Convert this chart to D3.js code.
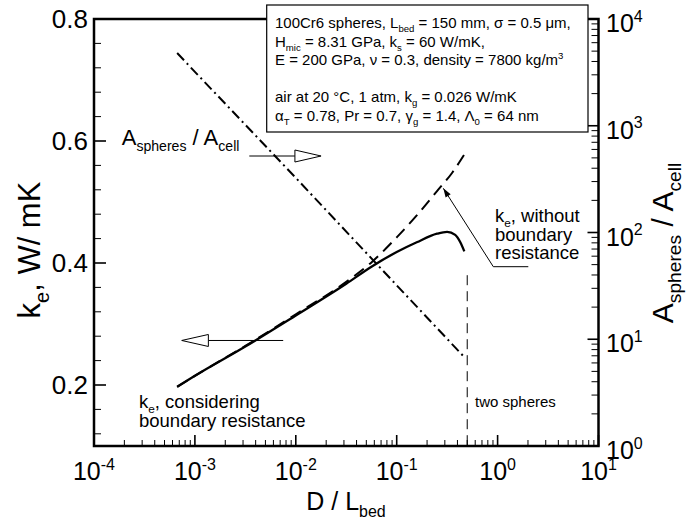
<!DOCTYPE html>
<html>
<head>
<meta charset="utf-8">
<script src="https://cdn.jsdelivr.net/npm/d3@7"></script>
<style>
  html, body { margin: 0; padding: 0; background: #fff; }
  svg { display: block; font-family: "Liberation Sans", Arial, Helvetica, sans-serif; }
</style>
</head>
<body>
<svg id="chart" width="692" height="520"></svg>
<script>
// Effective conductivity of a packed bed of 100Cr6 spheres versus D / L_bed

// D / L_bed sample points and k_e (W/mK) with boundary resistance
const dSolid  = [6.67e-4, 1e-3, 3.16e-3, 1e-2, 3.16e-2, 5.62e-2, 0.1, 0.158, 0.251, 0.316, 0.38, 0.427, 0.468];
const keSolid = [0.197, 0.215, 0.263, 0.314, 0.366, 0.394, 0.418, 0.434, 0.448, 0.451, 0.446, 0.434, 0.419];

// k_e without boundary resistance
const dDashed  = [6.67e-4, 1e-3, 3.16e-3, 1e-2, 3.16e-2, 5.62e-2, 0.1, 0.158, 0.251, 0.355, 0.468];
const keDashed = [0.197, 0.215, 0.264, 0.316, 0.369, 0.401, 0.442, 0.478, 0.518, 0.548, 0.578];

// A_spheres / A_cell (right axis)
const dRatio = [6.67e-4, 1e-3, 1e-2, 0.1, 0.468];
const ratio  = [4800, 3200, 325, 32, 6.8];

// "two spheres" limit
const dTwoSpheres = 0.5;

// axis ticks
const xTicks = [1e-4, 1e-3, 1e-2, 1e-1, 1e0, 1e1];
const xTickExp = ["-4", "-3", "-2", "-1", "0", "1"];
const yLeftTicks = [0.2, 0.4, 0.6, 0.8];
const yLeftTickLabels = ["0.2", "0.4", "0.6", "0.8"];
const yRightTicks = [1, 10, 100, 1000, 10000];
const yRightTickExp = ["0", "1", "2", "3", "4"];

const svg = d3.select("#chart");
const X0 = 94, X1 = 598.5, Y0 = 19, Y1 = 446;

const x  = d3.scaleLog().domain([1e-4, 10]).range([X0, X1]);
const yL = d3.scaleLinear().domain([0.1, 0.8]).range([Y1, Y0]);
const yR = d3.scaleLog().domain([1, 1e4]).range([Y1, Y0]);

// text with sub/superscript parts
function rich(g, px, py, parts, size, anchor) {
  const t = g.append("text").attr("x", px).attr("y", py)
    .attr("font-size", size).attr("text-anchor", anchor || "start").attr("fill", "#000");
  let shift = 0;
  parts.forEach(p => {
    const str = typeof p === "string" ? p : p[0];
    const kind = typeof p === "string" ? null : p[1];
    const target = kind === "sub" ? size * 0.28 : kind === "sup" ? -size * 0.42 : 0;
    const ts = t.append("tspan").text(str).attr("dy", target - shift);
    if (kind) ts.attr("font-size", size * 0.64);
    shift = target;
  });
  return t;
}

// ---- curves ----
const plot = svg.append("g");

const lineL = d3.line().x(d => x(d[0])).y(d => yL(d[1])).curve(d3.curveMonotoneX);
const lineR = d3.line().x(d => x(d[0])).y(d => yR(d[1]));

plot.append("path")
  .datum(d3.zip(dDashed, keDashed))
  .attr("d", lineL).attr("fill", "none").attr("stroke", "#000")
  .attr("stroke-width", 2).attr("stroke-dasharray", "12,7");

plot.append("path")
  .datum(d3.zip(dSolid, keSolid))
  .attr("d", lineL).attr("fill", "none").attr("stroke", "#000")
  .attr("stroke-width", 2.3);

plot.append("path")
  .datum(d3.zip(dRatio, ratio))
  .attr("d", lineR).attr("fill", "none").attr("stroke", "#000")
  .attr("stroke-width", 2).attr("stroke-dasharray", "10,4,2,4");

// two-spheres limit
plot.append("line")
  .attr("x1", x(dTwoSpheres)).attr("x2", x(dTwoSpheres))
  .attr("y1", yL(0.38)).attr("y2", Y1)
  .attr("stroke", "#000").attr("stroke-width", 1).attr("stroke-dasharray", "10,6");

// ---- axes ----
const ax = svg.append("g").attr("stroke", "#000");

// frame
ax.append("rect").attr("x", X0).attr("y", Y0).attr("width", X1 - X0).attr("height", Y1 - Y0)
  .attr("fill", "none").attr("stroke-width", 2.5);

// bottom log ticks (inward)
const xMinor = [];
for (let e = -4; e < 1; e++) for (let m = 2; m <= 9; m++) xMinor.push(m * Math.pow(10, e));
ax.selectAll(".xmin").data(xMinor).enter().append("line")
  .attr("x1", d => x(d)).attr("x2", d => x(d)).attr("y1", Y1).attr("y2", Y1 - 6).attr("stroke-width", 1);
ax.selectAll(".xmaj").data(xTicks).enter().append("line")
  .attr("x1", d => x(d)).attr("x2", d => x(d)).attr("y1", Y1).attr("y2", Y1 - 11).attr("stroke-width", 1.6);

// left linear ticks
const yMinor = d3.range(0.12, 0.8, 0.04).filter(v => Math.abs(v * 5 - Math.round(v * 5)) > 1e-6);
ax.selectAll(".ylmin").data(yMinor).enter().append("line")
  .attr("x1", X0).attr("x2", X0 + 7).attr("y1", d => yL(d)).attr("y2", d => yL(d)).attr("stroke-width", 1);
ax.selectAll(".ylmaj").data(yLeftTicks).enter().append("line")
  .attr("x1", X0).attr("x2", X0 + 12).attr("y1", d => yL(d)).attr("y2", d => yL(d)).attr("stroke-width", 1.6);

// right log ticks
const rMinor = [];
for (let e = 0; e < 4; e++) for (let m = 2; m <= 9; m++) rMinor.push(m * Math.pow(10, e));
ax.selectAll(".yrmin").data(rMinor).enter().append("line")
  .attr("x1", X1).attr("x2", X1 - 7).attr("y1", d => yR(d)).attr("y2", d => yR(d)).attr("stroke-width", 1);
ax.selectAll(".yrmaj").data(yRightTicks).enter().append("line")
  .attr("x1", X1).attr("x2", X1 - 11).attr("y1", d => yR(d)).attr("y2", d => yR(d)).attr("stroke-width", 1.6);

// tick labels
const lab = svg.append("g");
const TS = 25;
xTicks.forEach((v, i) => rich(lab, x(v), 480, ["10", [xTickExp[i], "sup"]], TS, "middle"));
yLeftTicks.forEach((v, i) => rich(lab, 88, yL(v) + 26 * 0.36, [yLeftTickLabels[i]], 26, "end"));
yRightTicks.forEach((v, i) => rich(lab, 606, yR(v) + TS * 0.36 + 4, ["10", [yRightTickExp[i], "sup"]], TS, "start"));

// axis titles
rich(lab, 346, 510, ["D / L", ["bed", "sub"]], 25, "middle");
rich(lab.append("g").attr("transform", "translate(40,250) rotate(-90)"), 0, 0,
  ["k", ["e", "sub"], ",  W/ mK"], 31, "middle");
rich(lab.append("g").attr("transform", "translate(673,243) rotate(-90)"), 0, 0,
  ["A", ["spheres", "sub"], " / A", ["cell", "sub"]], 30, "middle");

// ---- annotations ----
const ann = svg.append("g").attr("stroke", "#000");

// open arrowhead helper
function openArrow(xFrom, xBase, xTip, yPix) {
  ann.append("line").attr("x1", xFrom).attr("x2", xBase).attr("y1", yPix).attr("y2", yPix).attr("stroke-width", 1);
  ann.append("path")
    .attr("d", `M${xBase},${yPix - 6}L${xTip},${yPix}L${xBase},${yPix + 6}Z`)
    .attr("fill", "#fff").attr("stroke-width", 1);
}
// toward right axis
openArrow(x(3.46e-3), x(9.8e-3), x(0.0178), yL(0.5754));
// toward left axis
openArrow(x(7.5e-3), x(1.36e-3), x(7.4e-4), yL(0.273));

rich(lab, 121.7, 145, ["A", ["spheres", "sub"], " / A", ["cell", "sub"]], 22, "start");

// k_e considering boundary resistance
rich(lab, 139, 408, ["k", ["e", "sub"], ", considering"], 18.5, "start");
rich(lab, 139, 426.5, ["boundary resistance"], 18.5, "start");

// k_e without boundary resistance + leader
rich(lab, 495, 222, ["k", ["e", "sub"], ", without"], 18.5, "start");
rich(lab, 495, 240.5, ["boundary"], 18.5, "start");
rich(lab, 495, 259, ["resistance"], 18.5, "start");

const tipX = 443.3, tipY = 188.3, knX = 493.3, knY = 266.7;
ann.append("polyline")
  .attr("points", `528.3,${knY} ${knX},${knY} ${tipX},${tipY}`)
  .attr("fill", "none").attr("stroke-width", 1);
{
  const ang = Math.atan2(tipY - knY, tipX - knX);
  const L = 9, W = 3;
  const bx = tipX - L * Math.cos(ang), by = tipY - L * Math.sin(ang);
  const nx = -Math.sin(ang) * W, ny = Math.cos(ang) * W;
  ann.append("path")
    .attr("d", `M${tipX},${tipY}L${bx + nx},${by + ny}L${bx - nx},${by - ny}Z`)
    .attr("fill", "#000").attr("stroke", "none");
}

rich(lab, 475, 407, ["two spheres"], 15, "start");

// ---- parameter box ----
const box = svg.append("g");
box.append("rect").attr("x", 266.7).attr("y", 5).attr("width", 321.3).attr("height", 127)
  .attr("fill", "#fff").attr("stroke", "#000").attr("stroke-width", 1.2);
const BS = 15, BX = 275;
rich(box, BX, 28, ["100Cr6 spheres, L", ["bed", "sub"], " = 150 mm, σ = 0.5 μm,"], BS);
rich(box, BX, 46.5, ["H", ["mic", "sub"], " = 8.31 GPa, k", ["s", "sub"], " = 60 W/mK,"], BS);
rich(box, BX, 65, ["E = 200 GPa, ν = 0.3, density = 7800 kg/m", ["3", "sup"]], BS);
rich(box, BX, 102, ["air at 20 °C, 1 atm, k", ["g", "sub"], " = 0.026 W/mK"], BS);
rich(box, BX, 120.5, ["α", ["T", "sub"], " = 0.78, Pr = 0.7, γ", ["g", "sub"], " = 1.4, Λ", ["0", "sub"], " = 64 nm"], BS);
</script>
</body>
</html>
